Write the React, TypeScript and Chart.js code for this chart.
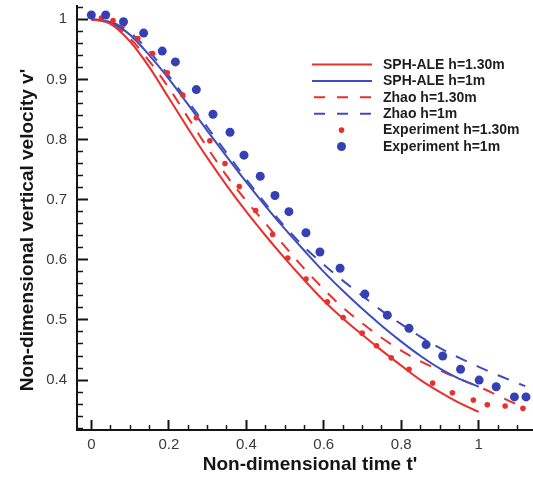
import React, { useEffect, useRef } from 'react';
import { Chart, registerables } from 'chart.js';

Chart.register(...registerables);

const FONT = "'Liberation Sans', Arial, Helvetica, sans-serif";

// ---- axis ranges & ticks ----
const X_MIN = -0.037;
const X_MAX = 1.14;
const Y_MIN = 0.317;
const Y_MAX = 1.022;
const X_MAJOR_TICKS = [0, 0.2, 0.4, 0.6, 0.8, 1.0];
const X_MINOR_TICKS = [0.05, 0.1, 0.15, 0.25, 0.3, 0.35, 0.45, 0.5, 0.55, 0.65, 0.7, 0.75, 0.85, 0.9, 0.95, 1.05, 1.1];
const Y_MAJOR_TICKS = [0.4, 0.5, 0.6, 0.7, 0.8, 0.9, 1.0];
const Y_MINOR_TICKS = [0.32, 0.34, 0.36, 0.38, 0.42, 0.44, 0.46, 0.48, 0.52, 0.54, 0.56, 0.58, 0.62, 0.64, 0.66, 0.68, 0.72, 0.74, 0.76, 0.78, 0.82, 0.84, 0.86, 0.88, 0.92, 0.94, 0.96, 0.98, 1.02];

const X_TITLE = "Non-dimensional time t'";
const Y_TITLE = "Non-dimensional vertical velocity v'";

// ---- series ----
const T_SPH = [0, 0.05, 0.1, 0.15, 0.2, 0.25, 0.3, 0.35, 0.4, 0.45, 0.5, 0.55, 0.6, 0.65, 0.7, 0.75, 0.8, 0.85, 0.9, 0.95, 1.0];
const SPH_ALE_130 = [1.0, 0.992, 0.963, 0.92, 0.869, 0.818, 0.769, 0.723, 0.68, 0.64, 0.602, 0.566, 0.532, 0.502, 0.475, 0.449, 0.424, 0.4, 0.38, 0.362, 0.347];
const SPH_ALE_100 = [1.0, 0.995, 0.974, 0.94, 0.901, 0.858, 0.814, 0.771, 0.729, 0.689, 0.651, 0.615, 0.58, 0.548, 0.518, 0.49, 0.464, 0.44, 0.419, 0.402, 0.389];

const T_ZHAO = [0, 0.05, 0.1, 0.15, 0.2, 0.25, 0.3, 0.35, 0.4, 0.45, 0.5, 0.55, 0.6, 0.65, 0.7, 0.75, 0.8, 0.85, 0.9, 0.95, 1.0, 1.05, 1.1, 1.12];
const ZHAO_130 = [1.0, 0.994, 0.968, 0.93, 0.886, 0.836, 0.786, 0.739, 0.698, 0.66, 0.622, 0.585, 0.551, 0.52, 0.494, 0.47, 0.449, 0.431, 0.416, 0.402, 0.389, 0.374, 0.359, 0.353];
const ZHAO_100 = [1.0, 0.996, 0.978, 0.946, 0.906, 0.863, 0.82, 0.777, 0.734, 0.693, 0.655, 0.621, 0.592, 0.565, 0.54, 0.515, 0.493, 0.472, 0.453, 0.437, 0.422, 0.408, 0.395, 0.39];

const EXP_130_T = [0.026, 0.056, 0.084, 0.12, 0.158, 0.196, 0.236, 0.271, 0.306, 0.345, 0.382, 0.424, 0.468, 0.507, 0.554, 0.609, 0.65, 0.699, 0.736, 0.774, 0.82, 0.881, 0.932, 0.986, 1.022, 1.068, 1.114];
const EXP_130_V = [1.002, 0.998, 0.992, 0.968, 0.943, 0.911, 0.874, 0.836, 0.798, 0.76, 0.722, 0.682, 0.642, 0.603, 0.568, 0.53, 0.504, 0.478, 0.457, 0.437, 0.418, 0.395, 0.379, 0.367, 0.359, 0.357, 0.353];

const EXP_100_T = [0, 0.037, 0.083, 0.135, 0.183, 0.217, 0.271, 0.314, 0.358, 0.394, 0.436, 0.474, 0.51, 0.554, 0.59, 0.642, 0.706, 0.764, 0.82, 0.864, 0.907, 0.953, 1.001, 1.045, 1.092, 1.122];
const EXP_100_V = [1.007, 1.007, 0.996, 0.977, 0.947, 0.929, 0.883, 0.842, 0.812, 0.774, 0.739, 0.707, 0.68, 0.645, 0.613, 0.586, 0.543, 0.508, 0.486, 0.459, 0.44, 0.418, 0.4, 0.389, 0.372, 0.372];

const LEGEND_ORDER = ['SPH-ALE h=1.30m', 'SPH-ALE h=1m', 'Zhao h=1.30m', 'Zhao h=1m', 'Experiment h=1.30m', 'Experiment h=1m'];

const RED = '#e8302c';
const BLUE = '#3e4dbd';
const BLUE_DOT = '#3440b4';
const DASH = [12, 11];

const zip = (xs: number[], ys: number[]) => xs.map((x, i) => ({ x, y: ys[i] }));

const fmt = (v: number) => {
  const n = Math.round(v * 10) / 10;
  return n === 0 ? '0' : String(n);
};

const zeroPad = (s: any) => {
  s.paddingLeft = 0;
  s.paddingRight = 0;
  s.paddingTop = 0;
  s.paddingBottom = 0;
};

const overlayPlugin = {
  id: 'overlay',
  afterDraw(chart: any) {
    const ctx: CanvasRenderingContext2D = chart.ctx;
    ctx.save();
    ctx.fillStyle = '#151515';
    ctx.font = `bold 19px ${FONT}`;
    ctx.textAlign = 'center';
    ctx.textBaseline = 'middle';
    ctx.fillText(X_TITLE, 310, 465);
    ctx.save();
    ctx.translate(28, 230);
    ctx.rotate(-Math.PI / 2);
    ctx.fillText(Y_TITLE, 0, 0);
    ctx.restore();

    // legend
    const x1 = 312, x2 = 372, tx = 383, y0 = 64.5, dy = 16.4;
    ctx.font = `bold 14px ${FONT}`;
    ctx.textAlign = 'left';
    LEGEND_ORDER.forEach((label, i) => {
      const ds = chart.data.datasets.find((d: any) => d.label === label);
      if (!ds) return;
      const y = y0 + i * dy;
      if (ds.showLine) {
        ctx.save();
        ctx.strokeStyle = ds.borderColor;
        ctx.lineWidth = ds.borderWidth;
        if (ds.borderDash && ds.borderDash.length) {
          ctx.setLineDash([11, 12]);
          ctx.beginPath();
          ctx.moveTo(x1 + 2, y);
          ctx.lineTo(x2, y);
          ctx.stroke();
        } else {
          ctx.beginPath();
          ctx.moveTo(x1, y);
          ctx.lineTo(x2, y);
          ctx.stroke();
        }
        ctx.restore();
      } else {
        ctx.beginPath();
        ctx.fillStyle = ds.backgroundColor;
        ctx.arc((x1 + x2) / 2 - 0.5, y, ds.pointRadius, 0, Math.PI * 2);
        ctx.fill();
      }
      ctx.fillStyle = '#1e1e1e';
      ctx.fillText(label, tx, y + 0.5);
    });
    ctx.restore();
  },
};

export default function App() {
  const ref = useRef<HTMLCanvasElement | null>(null);

  useEffect(() => {
    if (!ref.current) return;
    const axisColor = '#151515';
    const chart = new Chart(ref.current, {
      type: 'scatter',
      data: {
        datasets: [
          {
            label: 'Experiment h=1m',
            data: zip(EXP_100_T, EXP_100_V),
            showLine: false,
            pointRadius: 4.5,
            pointBackgroundColor: BLUE_DOT,
            backgroundColor: BLUE_DOT,
            pointBorderWidth: 0,
            borderColor: BLUE_DOT,
          },
          {
            label: 'Experiment h=1.30m',
            data: zip(EXP_130_T, EXP_130_V),
            showLine: false,
            pointRadius: 2.8,
            pointBackgroundColor: RED,
            backgroundColor: RED,
            pointBorderWidth: 0,
            borderColor: RED,
          },
          {
            label: 'SPH-ALE h=1.30m',
            data: zip(T_SPH, SPH_ALE_130),
            showLine: true,
            borderColor: RED,
            borderWidth: 2,
            pointRadius: 0,
            cubicInterpolationMode: 'monotone',
          },
          {
            label: 'SPH-ALE h=1m',
            data: zip(T_SPH, SPH_ALE_100),
            showLine: true,
            borderColor: BLUE,
            borderWidth: 2,
            pointRadius: 0,
            cubicInterpolationMode: 'monotone',
          },
          {
            label: 'Zhao h=1.30m',
            data: zip(T_ZHAO, ZHAO_130),
            showLine: true,
            borderColor: RED,
            borderWidth: 2,
            borderDash: DASH,
            pointRadius: 0,
            cubicInterpolationMode: 'monotone',
          },
          {
            label: 'Zhao h=1m',
            data: zip(T_ZHAO, ZHAO_100),
            showLine: true,
            borderColor: BLUE,
            borderWidth: 2,
            borderDash: DASH,
            pointRadius: 0,
            cubicInterpolationMode: 'monotone',
          },
        ],
      } as any,
      options: {
        responsive: false,
        animation: false,
        devicePixelRatio: 1,
        layout: { padding: { top: 6, left: 0, right: 0, bottom: 0 }, autoPadding: false },
        plugins: { legend: { display: false }, tooltip: { enabled: false } },
        scales: {
          x: {
            type: 'linear',
            position: 'bottom',
            weight: 1,
            min: X_MIN,
            max: X_MAX,
            afterBuildTicks: (s: any) => { s.ticks = X_MAJOR_TICKS.map((v) => ({ value: v })); },
            afterFit: (s: any) => { s.height = 48; zeroPad(s); },
            ticks: {
              callback: (v: any) => fmt(Number(v)),
              font: { family: FONT, size: 15 },
              color: '#3a3a3a',
              padding: 16,
              maxRotation: 0,
              autoSkip: false,
            },
            grid: { drawOnChartArea: false, drawTicks: true, tickLength: -10, tickWidth: 2, tickColor: axisColor },
            border: { display: true, width: 2, color: axisColor },
          },
          xMinor: {
            type: 'linear',
            position: 'bottom',
            weight: 0,
            min: X_MIN,
            max: X_MAX,
            afterBuildTicks: (s: any) => { s.ticks = X_MINOR_TICKS.map((v) => ({ value: v })); },
            afterFit: (s: any) => { s.height = 0; zeroPad(s); },
            ticks: { display: false },
            grid: { drawOnChartArea: false, drawTicks: true, tickLength: -5, tickWidth: 1.5, tickColor: axisColor },
            border: { display: false },
          },
          y: {
            type: 'linear',
            position: 'left',
            weight: 1,
            min: Y_MIN,
            max: Y_MAX,
            afterBuildTicks: (s: any) => { s.ticks = Y_MAJOR_TICKS.map((v) => ({ value: v })); },
            afterFit: (s: any) => { s.width = 77; zeroPad(s); },
            ticks: {
              callback: (v: any) => fmt(Number(v)),
              font: { family: FONT, size: 15 },
              color: '#3a3a3a',
              padding: 21,
              autoSkip: false,
            },
            grid: { drawOnChartArea: false, drawTicks: true, tickLength: -11, tickWidth: 2, tickColor: axisColor },
            border: { display: true, width: 2, color: axisColor },
          },
          yMinor: {
            type: 'linear',
            position: 'left',
            weight: 0,
            min: Y_MIN,
            max: Y_MAX,
            afterBuildTicks: (s: any) => { s.ticks = Y_MINOR_TICKS.map((v) => ({ value: v })); },
            afterFit: (s: any) => { s.width = 0; zeroPad(s); },
            ticks: { display: false },
            grid: { drawOnChartArea: false, drawTicks: true, tickLength: -6, tickWidth: 1.5, tickColor: axisColor },
            border: { display: false },
          },
        },
      } as any,
      plugins: [overlayPlugin],
    });
    return () => chart.destroy();
  }, []);

  return (
    <div style={{ position: 'absolute', left: 0, top: 0, width: 533, height: 478, background: '#fff' }}>
      <canvas ref={ref} width={533} height={478} style={{ display: 'block', width: 533, height: 478 }} />
    </div>
  );
}
